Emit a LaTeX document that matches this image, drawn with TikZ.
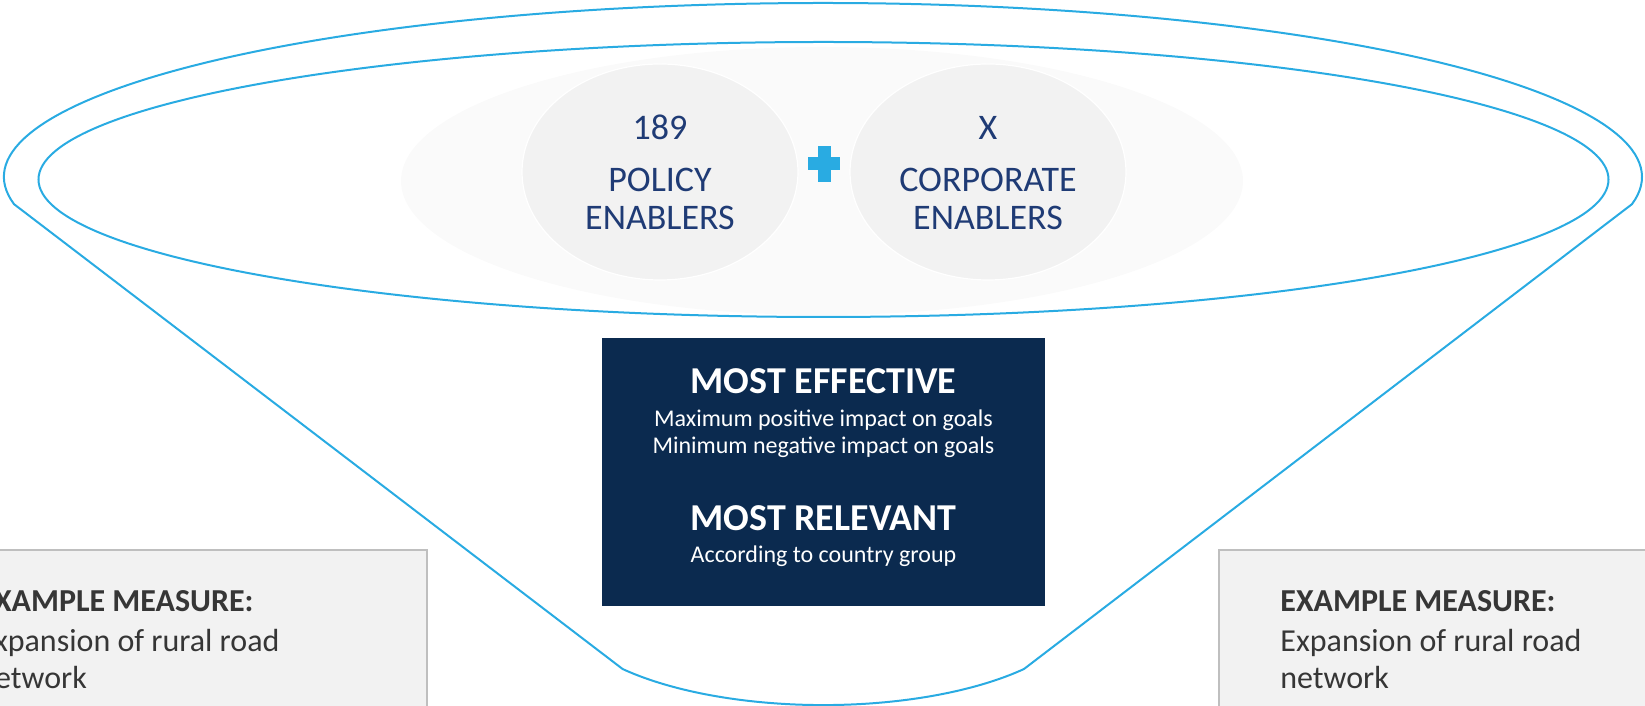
\documentclass[tikz,border=0pt]{standalone}
\usepackage{fontspec}
\setmainfont{Carlito}
\usetikzlibrary{shapes.geometric}
\definecolor{funnelblue}{HTML}{29ABE2}
\definecolor{navy}{HTML}{0B2A4F}
\definecolor{enablerblue}{HTML}{1F3B75}
\definecolor{darktext}{HTML}{363636}
\tikzset{
	funnel/.style={line width=1pt, color=funnelblue},
	enabler/.style={ellipse, fill=black!5, draw=white, line width=0.6pt, minimum width=138pt, minimum height=108pt, inner sep=0pt},
	enabtext/.style={anchor=base, text=enablerblue, font=\fontsize{18}{20}\selectfont, inner sep=0pt},
	critbox/.style={rectangle, fill=navy, minimum width=221.5pt, minimum height=134pt, inner sep=0pt},
	crithead/.style={anchor=base, text=white, font=\fontsize{19}{22}\selectfont\bfseries, inner sep=0pt},
	critline/.style={anchor=base, text=white, font=\fontsize{12}{14}\selectfont, inner sep=0pt},
	measurebox/.style={rectangle, fill=black!5, draw=black!25, line width=1pt, minimum width=250pt, minimum height=88pt, inner sep=0pt},
	measuretext/.style={anchor=base west, text=darktext, font=\fontsize{16}{19}\selectfont, inner sep=0pt}
}

\begin{document}
\begin{tikzpicture}[x=0.5pt, y=0.5pt]
	%%%%% START %%%%%
	\useasboundingbox (0,0) rectangle (1645,706);
	\clip (0,0) rectangle (1645,706);
	
	% light backdrop behind the two enabler groups
	\fill[black!2] (822,525) ellipse [x radius=421, y radius=134];
	
	% funnel outline
	\draw[funnel] (823,529) ++(189:819 and 174) arc[start angle=189, end angle=-9, x radius=819, y radius=174]
		-- (1024,37) arc[start angle=320, end angle=220, x radius=262, y radius=101] -- cycle;
	\draw[funnel] (823.5,526.5) ellipse [x radius=785, y radius=137.5];
	
	% enablers
	\node[enabler] (policy) at (660,534) {};
	\node[enabler] (corporate) at (988,534) {};
	
	\node[enabtext] (policynum) at (660,566) {189};
	\node[enabtext] (policyname) at (660,514) {POLICY};
	\node[enabtext] (policyname2) at (660,476) {ENABLERS};
	
	\node[enabtext] (corpnum) at (988,566) {X};
	\node[enabtext] (corpname) at (988,514) {CORPORATE};
	\node[enabtext] (corpname2) at (988,476) {ENABLERS};
	
	\fill[funnelblue] (817.5,524) rectangle (830.5,560);
	\fill[funnelblue] (808,535.5) rectangle (840,548.5);
	
	% selection criteria
	\node[critbox] (crit) at (823.5,234) {};
	\node[crithead] (effective) at (823.5,312) {MOST EFFECTIVE};
	\node[critline] (maxpos) at (823.5,279) {Maximum positive impact on goals};
	\node[critline] (minneg) at (823.5,252) {Minimum negative impact on goals};
	\node[crithead] (relevant) at (823.5,175) {MOST RELEVANT};
	\node[critline] (country) at (823.5,143) {According to country group};
	
	% example measures
	\node[measurebox] (exleft) at (177,68) {};
	\node[measuretext] (exlefthead) at (-22,94) {\bfseries EXAMPLE MEASURE:};
	\node[measuretext] (exleftline) at (-22,54) {Expansion of rural road};
	\node[measuretext] (exleftline2) at (-22,17) {network};
	
	\node[measurebox] (exright) at (1469,68) {};
	\node[measuretext] (exrighthead) at (1280,94) {\bfseries EXAMPLE MEASURE:};
	\node[measuretext] (exrightline) at (1280,54) {Expansion of rural road};
	\node[measuretext] (exrightline2) at (1280,17) {network};
	
	%%%%% END %%%%%
\end{tikzpicture}
\end{document}
